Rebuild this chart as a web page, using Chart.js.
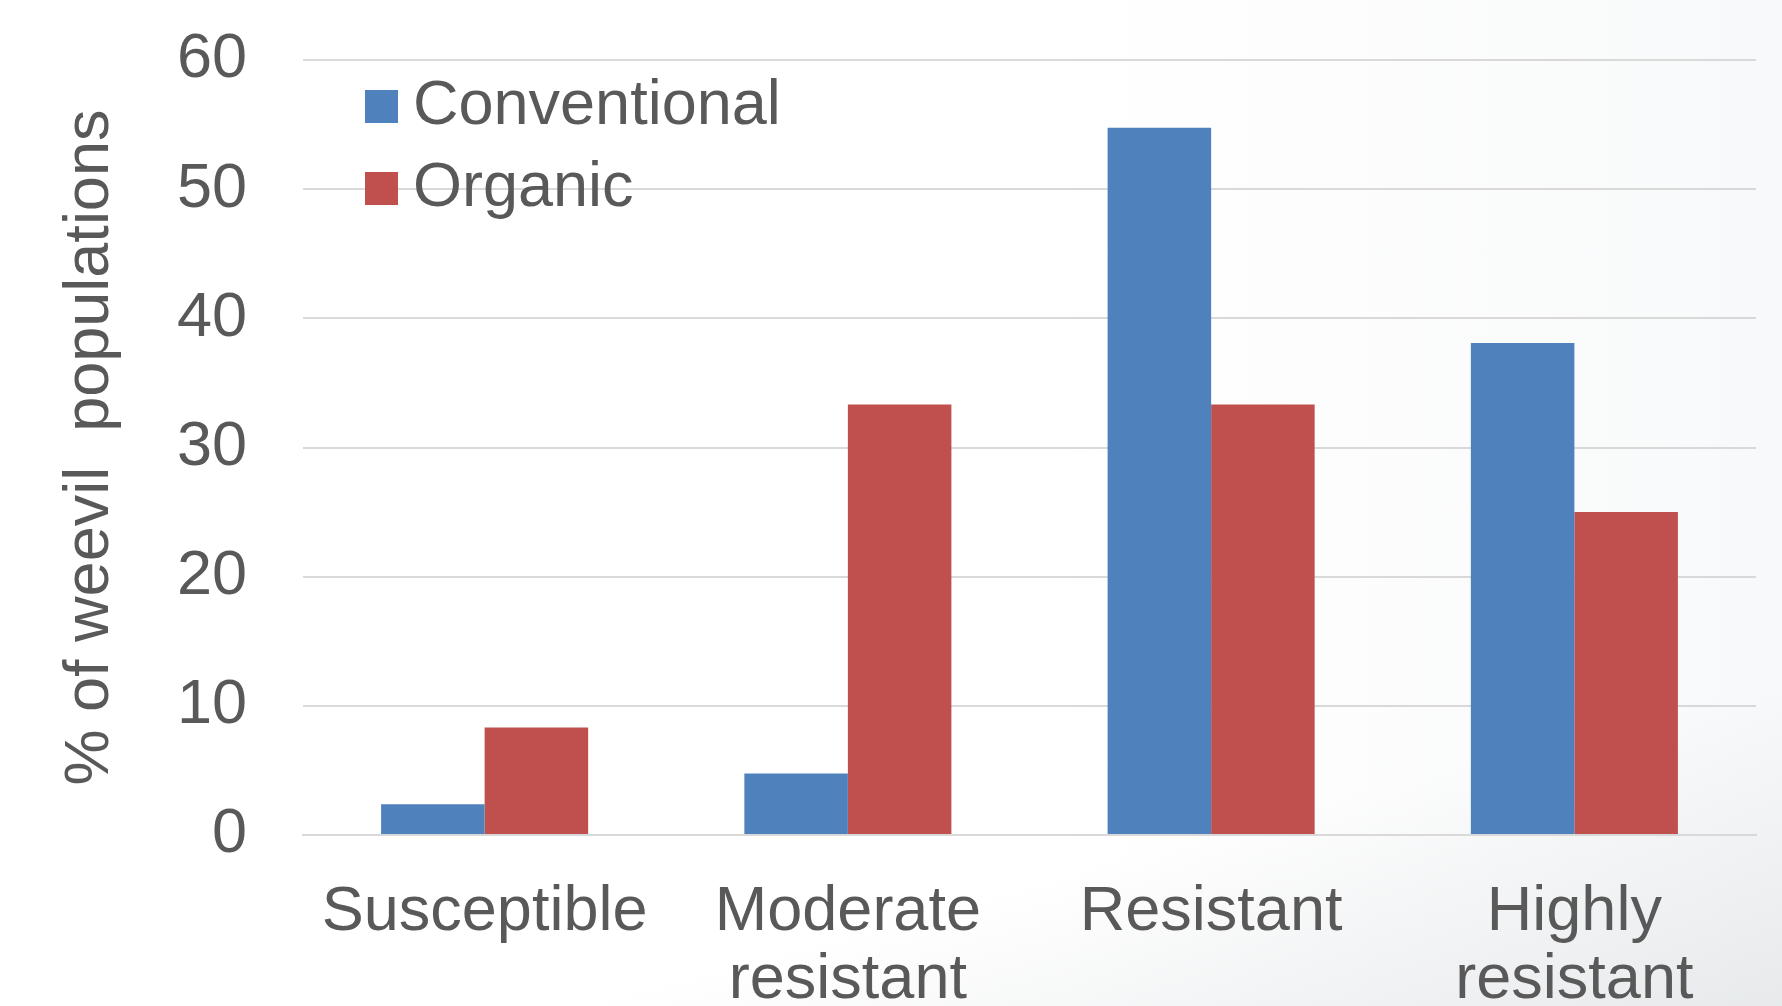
<!DOCTYPE html>
<html>
<head>
<meta charset="utf-8">
<script src="https://cdn.jsdelivr.net/npm/chart.js@4"></script>
<style>
html,body{margin:0;padding:0;background:#fff;}
#wrap{width:1782px;height:1006px;position:relative;
  background:
    linear-gradient(165deg, rgba(255,255,255,0) 0%, rgba(255,255,255,0) 78%, rgba(215,219,222,0.5) 100%),
    linear-gradient(90deg, #ffffff 0%, #ffffff 60%, #f8f9fa 100%);}
</style>
</head>
<body>
<div id="wrap"><canvas id="c" width="1782" height="1006"></canvas></div>
<script>
const categories = [["Susceptible"], ["Moderate", "resistant"], ["Resistant"], ["Highly", "resistant"]];
const seriesNames = ["Conventional", "Organic"];
const conventional = [2.38, 4.76, 54.76, 38.1];
const organic = [8.33, 33.33, 33.33, 25.0];
const yTicks = [0, 10, 20, 30, 40, 50, 60];
const yTitle = "% of weevil  populations";
const colors = ["#4F81BD", "#C0504D"];
const textColor = "#595959";
const FONT = "'Liberation Sans', Arial, sans-serif";

const legendPlugin = {
  id: 'insideLegend',
  afterDraw(chart) {
    const ctx = chart.ctx;
    ctx.save();
    ctx.font = "63px " + FONT;
    ctx.textBaseline = 'middle';
    ctx.textAlign = 'left';
    chart.data.datasets.forEach((ds, i) => {
      const cy = 106 + i * 82;
      ctx.fillStyle = ds.backgroundColor;
      ctx.fillRect(365, cy - 16, 33, 33);
      ctx.fillStyle = textColor;
      ctx.fillText(ds.label, 413, cy + 1);
    });
    ctx.restore();
  }
};

new Chart(document.getElementById('c'), {
  type: 'bar',
  data: {
    labels: categories,
    datasets: [
      { label: seriesNames[0], data: conventional, backgroundColor: colors[0], borderWidth: 0 },
      { label: seriesNames[1], data: organic, backgroundColor: colors[1], borderWidth: 0 }
    ]
  },
  options: {
    responsive: false,
    animation: false,
    maintainAspectRatio: false,
    layout: { padding: { top: 60, right: 26, left: 0, bottom: 0 } },
    datasets: { bar: { categoryPercentage: 0.57, barPercentage: 1.0 } },
    plugins: { legend: { display: false }, tooltip: { enabled: false } },
    scales: {
      x: {
        grid: { display: false, drawTicks: false },
        border: { display: true, color: '#d9d9d9', width: 2 },
        ticks: {
          color: textColor,
          font: { family: FONT, size: 63, lineHeight: 1.08 },
          padding: 44,
          maxRotation: 0,
          autoSkip: false
        },
        afterFit(scale) { scale.height = 171; }
      },
      y: {
        min: 0, max: 60,
        afterBuildTicks(scale) { scale.ticks = yTicks.map(v => ({ value: v })); },
        grid: { color: '#d9d9d9', lineWidth: 2, drawTicks: false },
        border: { display: false },
        ticks: {
          color: textColor,
          font: { family: FONT, size: 63 },
          padding: 56
        },
        title: {
          display: true,
          text: yTitle,
          color: textColor,
          font: { family: FONT, size: 63 },
          padding: { top: 53, bottom: 0 }
        },
        afterFit(scale) { scale.width = 303; scale.paddingTop = 0; scale.paddingBottom = 0; }
      }
    }
  },
  plugins: [legendPlugin]
});
</script>
</body>
</html>
